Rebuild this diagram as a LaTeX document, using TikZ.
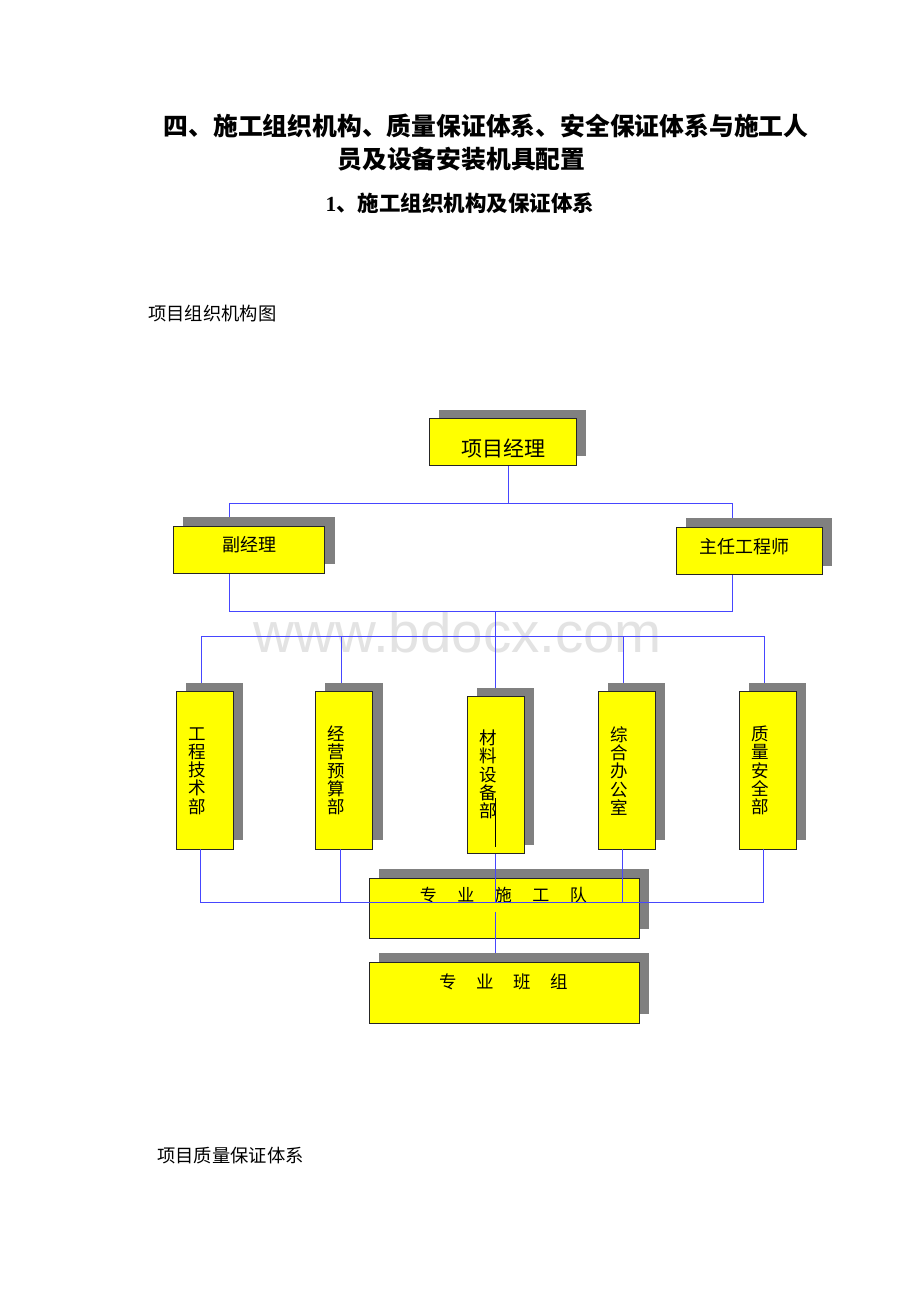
\documentclass[tikz,border=0pt]{standalone}
\usepackage{fontspec}
\newfontfamily\cjk{Noto Sans CJK SC}
\newfontfamily\wmfont{Liberation Sans}
\newfontfamily\tnr{Liberation Serif}
\usetikzlibrary{shadows}
\definecolor{ln}{RGB}{70,70,255}
\definecolor{shd}{RGB}{128,128,128}
\definecolor{bx}{RGB}{255,255,0}
\tikzset{
  conn/.style={draw=ln, line width=1pt},
  ybox/.style={draw=black!85, line width=1pt, fill=bx, inner sep=0pt, outer sep=0pt,
     drop shadow={shadow xshift=9.8pt, shadow yshift=9.2pt, fill=shd, opacity=1}},
  lbl/.style={inner sep=0pt, text=black},
  vlbl/.style={inner sep=0pt, text=black, align=center, font=\fontsize{17.5}{18.2}\selectfont\cjk},
}
\begin{document}
\begin{tikzpicture}[x=1pt,y=-1pt]
\useasboundingbox (0,0) rectangle (920,1302);
\fill[white] (0,0) rectangle (920,1302);

% titles
\node[lbl, font=\fontsize{24.8}{26}\selectfont\cjk\bfseries] (t1) at (486,126) {四、施工组织机构、质量保证体系、安全保证体系与施工人};
\node[lbl, font=\fontsize{24.8}{26}\selectfont\cjk\bfseries] (t2) at (461.5,159) {员及设备安装机具配置};
\node[lbl, font=\fontsize{21.5}{23}\selectfont\cjk\bfseries] (t3) at (460,203.5) {{\tnr\bfseries 1}、施工组织机构及保证体系};
\node[lbl, anchor=west, font=\fontsize{18.3}{20}\selectfont\cjk] (cap1) at (148,314) {项目组织机构图};
\node[lbl, anchor=west, font=\fontsize{18.3}{20}\selectfont\cjk] (cap2) at (157,1156) {项目质量保证体系};

% watermark
\node[lbl, anchor=base, text=black!11, font=\fontsize{56.5}{60}\selectfont\wmfont] (wm) at (458,652) {www.bdocx.com};

% coordinates of connector junctions
\coordinate (j1) at (508.7,503.7);
\coordinate (hl) at (229.3,503.7);
\coordinate (hr) at (732.3,503.7);
\coordinate (bl) at (229.3,611.7);
\coordinate (br) at (732.3,611.7);
\coordinate (m1) at (495,611.7);
\coordinate (tl) at (201,636.7);
\coordinate (tr) at (765.3,636.7);
\coordinate (t2c) at (341,636.7);
\coordinate (t3c) at (495,636.7);
\coordinate (t4c) at (623.7,636.7);
\coordinate (t5c) at (764.3,636.7);
\coordinate (u1) at (200,902.3);
\coordinate (u2) at (340,902.3);
\coordinate (u4) at (622.7,902.3);
\coordinate (u5) at (763.3,902.3);
\coordinate (g1) at (495,903);
\coordinate (g2) at (495,912);
\coordinate (k1) at (495,798.3);
\coordinate (k2) at (495,846.7);

% boxes (placed first as invisible nodes for names)
\path
  (502.5,442.3) node[minimum width=147pt, minimum height=46.7pt, inner sep=0pt] (pm) {}
  (249,549.5)   node[minimum width=151.4pt, minimum height=47pt, inner sep=0pt] (vp) {}
  (749.2,551)   node[minimum width=146.3pt, minimum height=47.4pt, inner sep=0pt] (ce) {}
  (204.7,770.4) node[minimum width=57.3pt, minimum height=157.3pt, inner sep=0pt] (d1) {}
  (344,770.4)   node[minimum width=57.4pt, minimum height=157.3pt, inner sep=0pt] (d2) {}
  (495.7,775.2) node[minimum width=56.7pt, minimum height=157pt, inner sep=0pt] (d3) {}
  (626.5,770.4) node[minimum width=57pt, minimum height=157.3pt, inner sep=0pt] (d4) {}
  (767.7,770.4) node[minimum width=57.3pt, minimum height=157.3pt, inner sep=0pt] (d5) {}
  (504.3,908.3) node[minimum width=270pt, minimum height=60pt, inner sep=0pt] (team) {}
  (504.3,992.8) node[minimum width=270pt, minimum height=61pt, inner sep=0pt] (crew) {};

% connectors under the boxes
\draw[conn] (pm.south -| j1) -- (j1);
\draw[conn] (hl |- vp.north) -- (hl) -- (hr) -- (hr |- ce.north);
\draw[conn] (bl |- vp.south) -- (bl) -- (br) -- (br |- ce.south);
\draw[conn] (m1) -- (m1 |- d3.north);
\draw[conn] (tl) -- (tr);
\draw[conn] (tl) -- (tl |- d1.north);
\draw[conn] (t2c) -- (t2c |- d2.north);
\draw[conn] (t4c) -- (t4c |- d4.north);
\draw[conn] (t5c) -- (t5c |- d5.north);

% visible boxes
\node[ybox, minimum width=147pt, minimum height=46.7pt] (pmb) at (pm) {};
\node[ybox, minimum width=151.4pt, minimum height=47pt] (vpb) at (vp) {};
\node[ybox, minimum width=146.3pt, minimum height=47.4pt] (ceb) at (ce) {};
\node[ybox, minimum width=57.3pt, minimum height=157.3pt] (d1b) at (d1) {};
\node[ybox, minimum width=57.4pt, minimum height=157.3pt] (d2b) at (d2) {};
\node[ybox, minimum width=56.7pt, minimum height=157pt] (d3b) at (d3) {};
\node[ybox, minimum width=57pt, minimum height=157.3pt] (d4b) at (d4) {};
\node[ybox, minimum width=57.3pt, minimum height=157.3pt] (d5b) at (d5) {};
\node[ybox, minimum width=270pt, minimum height=60pt] (teamb) at (team) {};

% labels
\node[lbl, font=\fontsize{21}{22}\selectfont\cjk] (pmt) at (503,449) {项目经理};
\node[lbl, font=\fontsize{18}{20}\selectfont\cjk] (vpt) at (249,545) {副经理};
\node[lbl, font=\fontsize{18}{20}\selectfont\cjk] (cet) at (744.7,546.5) {主任工程师};
\node[vlbl] (d1t) at (197.5,771) {工\\程\\技\\术\\部};
\node[vlbl] (d2t) at (336.7,770.5) {经\\营\\预\\算\\部};
\node[vlbl] (d3t) at (488,774.5) {材\\料\\设\\备\\部};
\node[vlbl] (d4t) at (619,771) {综\\合\\办\\公\\室};
\node[vlbl] (d5t) at (760,770.5) {质\\量\\安\\全\\部};
\node[lbl, font=\fontsize{17}{20}\selectfont\cjk] (teamt) at (503.3,895) {专\hspace{20.5pt}业\hspace{20.5pt}施\hspace{20.5pt}工\hspace{20.5pt}队};

% connectors over the team box
\draw[conn] (d1.south -| u1) -- (u1) -- (u5) -- (u5 |- d5.south);
\draw[conn] (d2.south -| u2) -- (u2);
\draw[conn] (d4.south -| u4) -- (u4);
\draw[conn] (d3.south -| g1) -- (g1);
\draw[conn] (g2) -- (g2 |- crew.north);

% bottom box
\node[ybox, minimum width=270pt, minimum height=61pt] (crewb) at (crew) {};
\node[lbl, font=\fontsize{17.5}{20}\selectfont\cjk] (crewt) at (503.7,981.7) {专\hspace{19.5pt}业\hspace{19.5pt}班\hspace{19.5pt}组};

% black stroke inside 材料设备部
\draw[black, line width=0.8pt] (k1) -- (k2);
\end{tikzpicture}
\end{document}
